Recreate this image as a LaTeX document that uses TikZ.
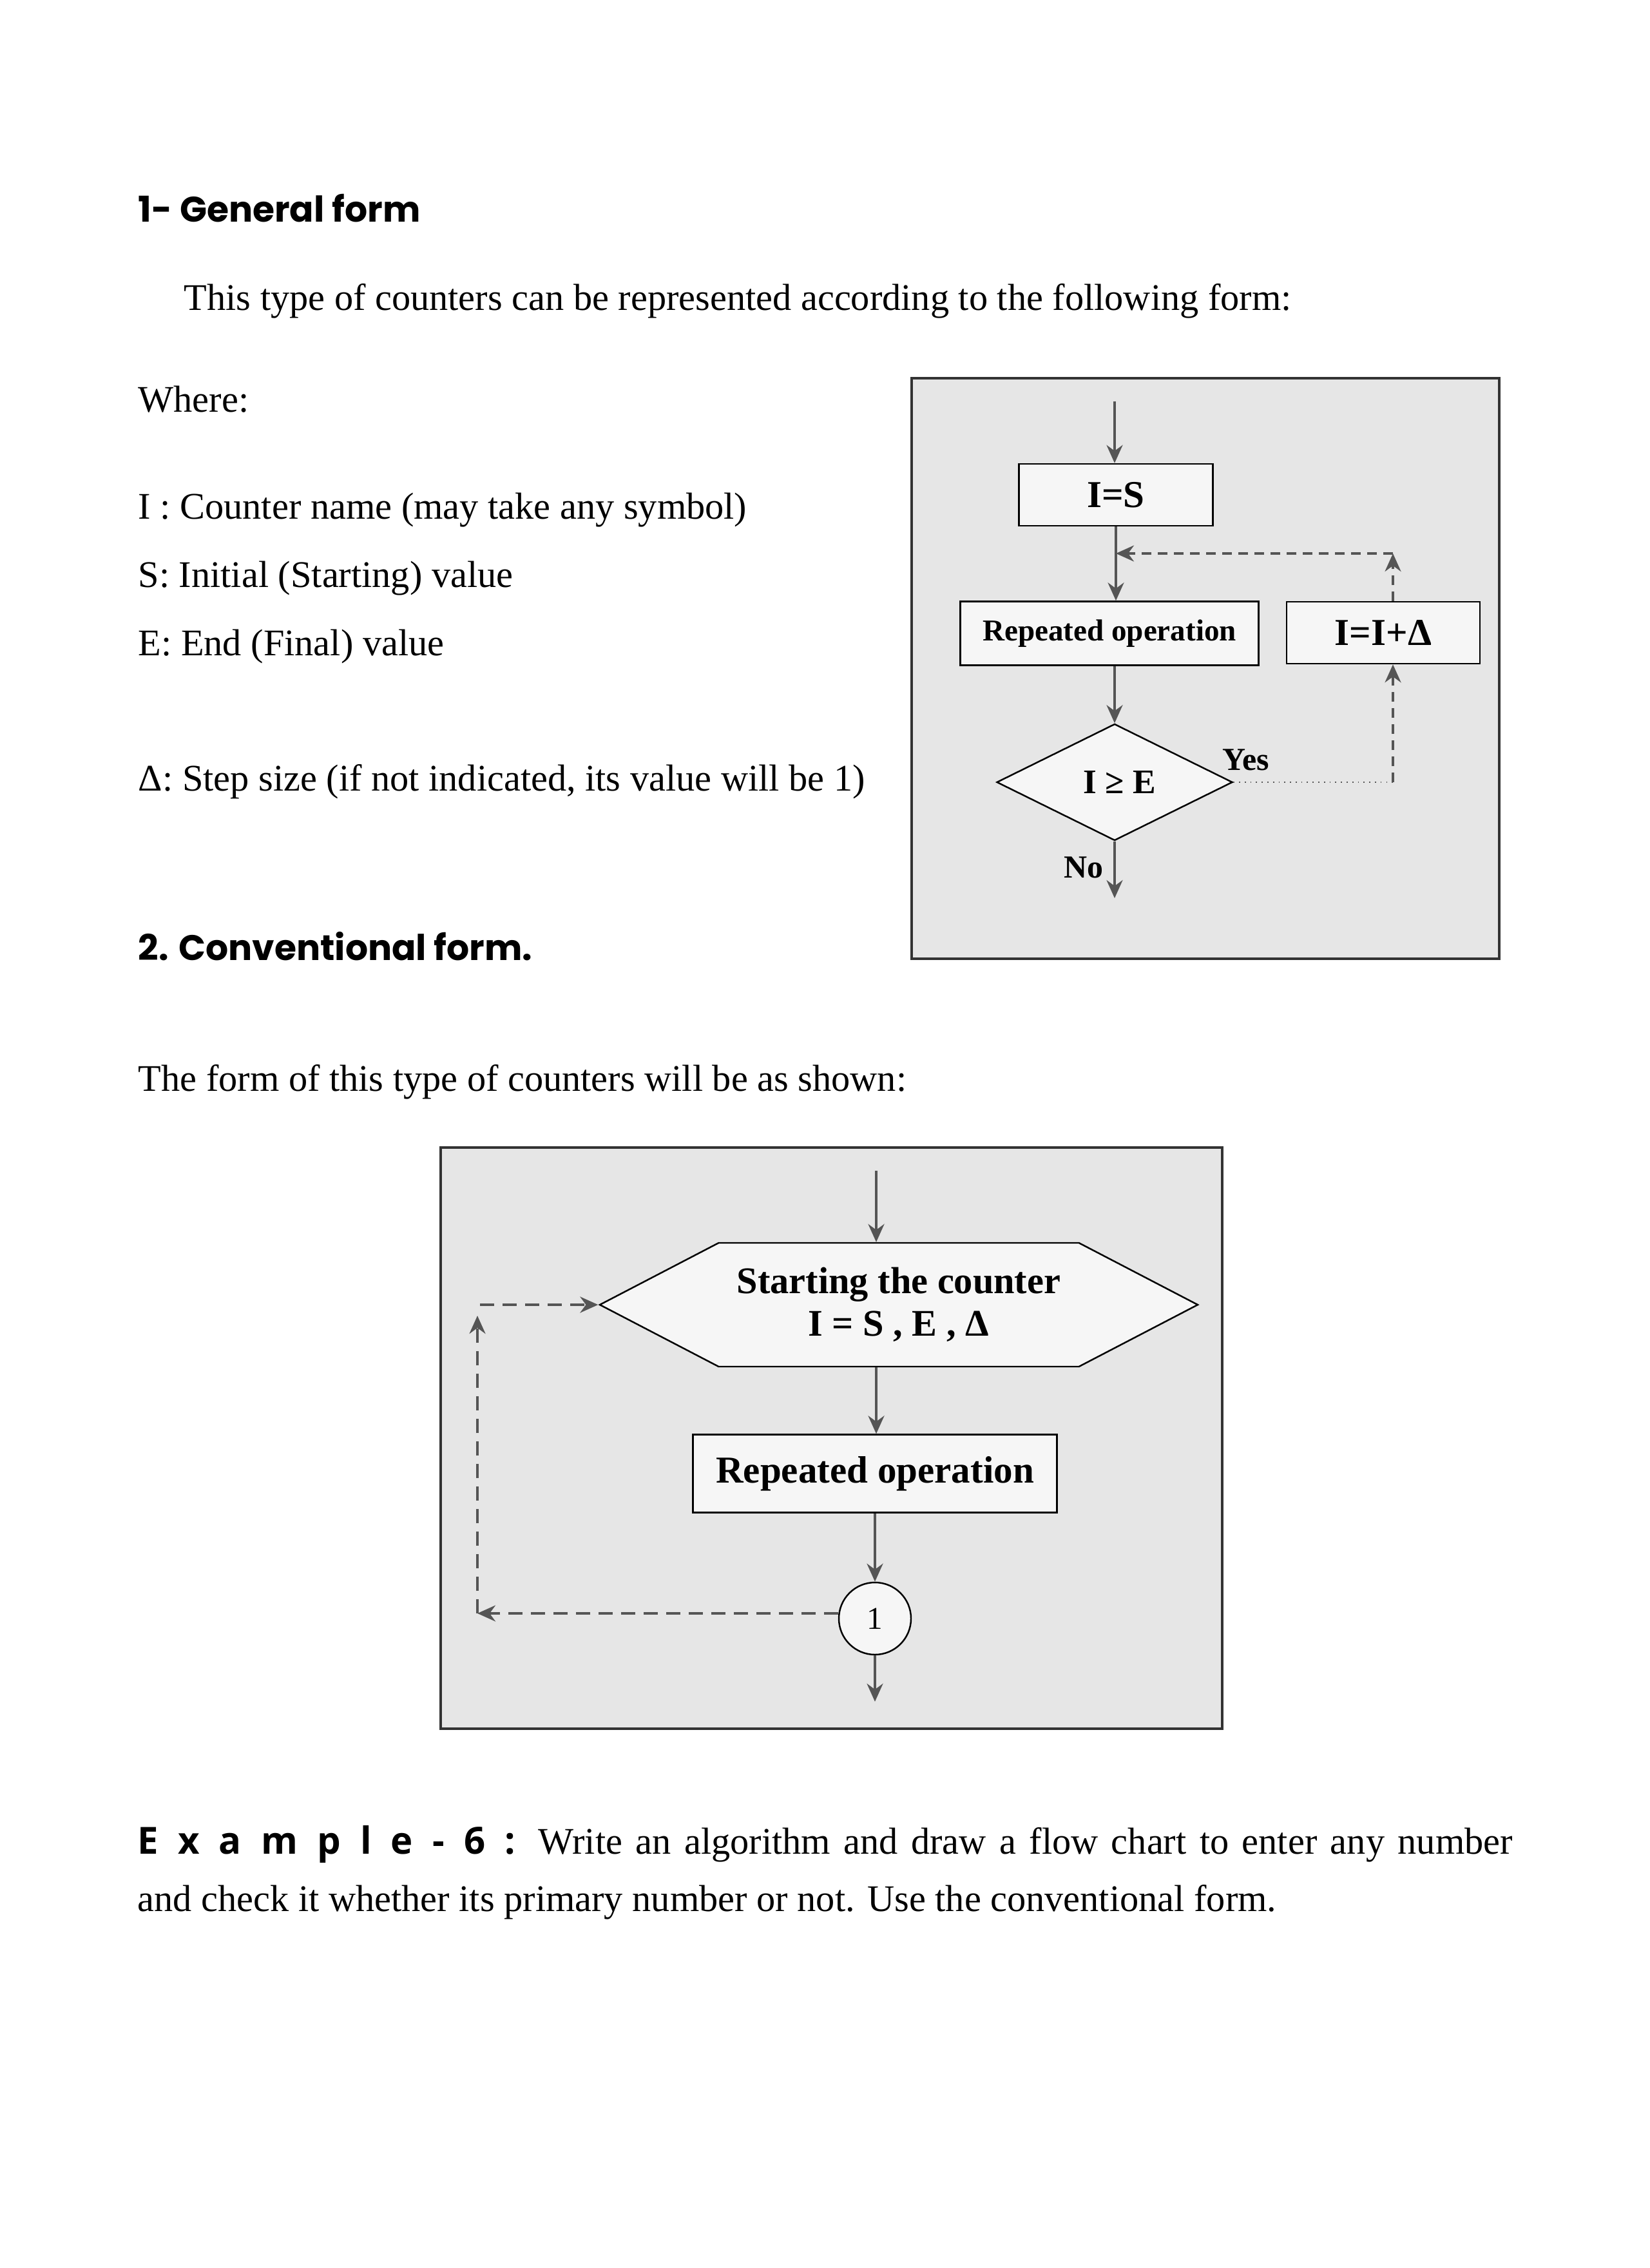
\documentclass[tikz,border=0pt]{standalone}
\usepackage{fontspec}
\setmainfont{Liberation Serif}
\newfontfamily\headfont{Poppins}
\newfontfamily\exfont[LetterSpace=26]{Open Sans}
\usepackage{tikz}
\usetikzlibrary{positioning,shapes,shapes.geometric,shapes.symbols,arrows.meta}
\definecolor{panelgray}{HTML}{E6E6E6}
\definecolor{boxfill}{HTML}{F6F6F6}
\definecolor{linegray}{HTML}{555555}
\tikzstyle{panel} = [draw=black!80, line width=0.9pt, fill=panelgray]
\tikzstyle{process} = [rectangle, draw=black, line width=0.7pt, fill=boxfill, inner sep=0pt, text centered, font=\bfseries]
\tikzstyle{decision} = [diamond, draw=black, line width=0.7pt, fill=boxfill, inner sep=0pt, minimum width=3.66cm, minimum height=1.81cm, font=\bfseries\fontsize{15.2}{18}\selectfont]
\tikzstyle{hexa} = [signal, signal to=east and west, signal pointer angle=55, draw=black, line width=0.7pt, fill=boxfill, inner sep=0pt, align=center, font=\bfseries\fontsize{16.6}{18.8}\selectfont]
\tikzstyle{connector} = [circle, draw=black, line width=0.7pt, fill=boxfill, minimum size=1.12cm, inner sep=0pt, font=\fontsize{14}{17}\selectfont]
\tikzstyle{arrow} = [draw=linegray, line width=1.1pt, -{Stealth[length=2.8mm,width=2.5mm]}, linegray]
\tikzstyle{dasharrow} = [arrow, dash pattern=on 1.5mm off 1mm]
\tikzstyle{longdash} = [arrow, dash pattern=on 2.2mm off 1.3mm]
\tikzstyle{dotline} = [draw=linegray, line width=0.5pt, dotted]
\tikzstyle{bodytext} = [anchor=base west, inner sep=0pt, font=\fontsize{16.6}{20}\selectfont]
\tikzstyle{heading} = [anchor=base west, inner sep=0pt, font=\headfont\bfseries\fontsize{15.7}{19}\selectfont]
\tikzstyle{label} = [inner sep=0pt, font=\bfseries\fontsize{14.2}{17}\selectfont]

\begin{document}
\begin{tikzpicture}
          \useasboundingbox[fill=white] (0,0) rectangle (25.6,-35.2);
          % text of the page
          \node (head1) [heading] at (2.14,-3.45) {1- General form};
          \node (intro) [bodytext] at (2.85,-4.82) {This type of counters can be represented according to the following form:};
          \node (where) [bodytext] at (2.14,-6.40) {Where:};
          \node (defI) [bodytext] at (2.14,-8.06) {I : Counter name (may take any symbol)};
          \node (defS) [bodytext] at (2.14,-9.12) {S: Initial (Starting) value};
          \node (defE) [bodytext] at (2.14,-10.17) {E: End (Final) value};
          \node (defD) [bodytext] at (2.14,-12.27) {Δ: Step size (if not indicated, its value will be 1)};
          \node (head2) [heading] at (2.14,-14.90) {2. Conventional form.};
          \node (shown) [bodytext] at (2.14,-16.93) {The form of this type of counters will be as shown:};
          \node (exlabel) [bodytext, font=\exfont\bfseries\fontsize{16.5}{20}\selectfont] at (2.13,-28.77) {E x a m p l e - 6 :};
          \node (exline1) [bodytext] at (8.35,-28.77) {\makebox[15.12cm][s]{Write an algorithm and draw a flow chart to enter any number}};
          \node (exline2) [bodytext] at (2.13,-29.66) {and check it whether its primary number or not. Use the conventional form.};

          % general form
          \draw [panel] (14.15,-5.87) rectangle (23.27,-14.88);
          \coordinate (in1) at (17.30,-6.23);
          \node (init) [process, minimum width=3.01cm, minimum height=0.96cm, font=\bfseries\fontsize{16.8}{20}\selectfont] at (17.32,-7.68) {I=S};
          \node (rep1) [process, minimum width=4.63cm, minimum height=0.99cm, font=\bfseries\fontsize{13.4}{16}\selectfont] at (17.22,-9.83) {Repeated operation};
          \node (inc) [process, minimum width=3.00cm, minimum height=0.96cm, font=\bfseries\fontsize{16.8}{20}\selectfont] at (21.47,-9.82) {I=I+Δ};
          \node (test) [decision] at (17.30,-12.14) {\hspace{0.15cm}I ≥ E};
          \node (yes) [label] at (19.34,-11.79) {Yes};
          \node (no) [label] at (16.82,-13.46) {No};
          \coordinate (out1) at (17.30,-13.94);
          \coordinate (turn1) at (21.62,-12.14);
          \coordinate (back1) at (21.62,-8.59);
          \draw [arrow] (in1) -- (in1 |- init.north);
          \draw [arrow] (init.south) -- (init.south |- rep1.north);
          \draw [arrow] (test.north |- rep1.south) -- (test.north);
          \draw [arrow] (test.south) -- (out1);
          \draw [dotline] (test.east) -- (turn1);
          \draw [dasharrow] (turn1) -- (turn1 |- inc.south);
          \draw [dasharrow] (turn1 |- inc.north) -- (back1);
          \draw [dasharrow] (back1) -- (back1 -| init.south);

          % conventional form
          \draw [panel] (6.84,-17.81) rectangle (18.97,-26.83);
          \coordinate (in2) at (13.60,-18.17);
          \node (start) [hexa, minimum width=9.28cm, minimum height=1.92cm] at (13.95,-20.25) {Starting the counter\\I = S , E , Δ};
          \node (rep2) [process, minimum width=5.65cm, minimum height=1.21cm, font=\bfseries\fontsize{16.8}{20}\selectfont] at (13.58,-22.87) {Repeated operation};
          \node (join) [connector] at (13.58,-25.12) {1};
          \coordinate (out2) at (13.58,-26.41);
          \coordinate (low2) at (7.41,-25.04);
          \coordinate (high2) at (7.41,-20.42);
          \draw [arrow] (in2) -- (in2 |- start.north);
          \draw [arrow] (in2 |- start.south) -- (in2 |- rep2.north);
          \draw [arrow] (rep2.south) -- (join.north);
          \draw [arrow] (join.south) -- (out2);
          \draw [longdash] (join.west |- low2) -- (low2);
          \draw [longdash] (low2) -- (high2);
          \draw [longdash] (start.west -| 7.45,0) -- (start.west);
        \end{tikzpicture}
\end{document}
